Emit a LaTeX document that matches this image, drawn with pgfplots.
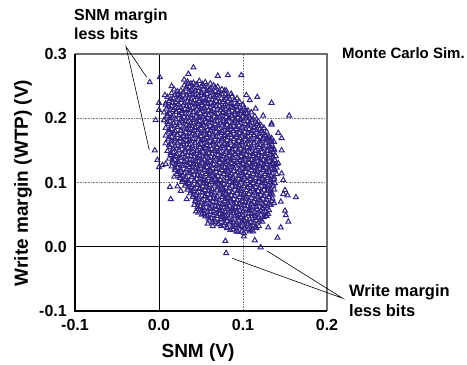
\documentclass[border=0pt]{standalone}
\usepackage{pgfplots}
\pgfplotsset{compat=1.18}
\usepackage{fontspec}
\setmainfont{Liberation Sans}
\definecolor{markc}{RGB}{50,34,132}
\definecolor{framegray}{RGB}{110,110,110}
\begin{document}
\begin{tikzpicture}
\useasboundingbox (-75bp,-54bp) rectangle (392bp,311bp);
\begin{axis}[at={(0,0)}, anchor=south west, scale only axis,
  width=252bp, height=257bp,
  xmin=-0.1, xmax=0.2, ymin=-0.1, ymax=0.3,
  xtick={-0.1,0,0.1,0.2}, ytick={-0.1,0,0.1,0.2,0.3},
  axis line style={draw=none},
  major tick length=0pt,
  clip=false,
  /pgf/number format/.cd, fixed, fixed zerofill, precision=1, assume math mode=true,
  /pgfplots/.cd,
  tick label style={font=\fontsize{16bp}{18bp}\selectfont\bfseries},
  xticklabel style={anchor=north, inner sep=0pt, yshift=-8bp},
  yticklabel style={anchor=east, inner sep=0pt, xshift=-8bp},
  mcs/.style={only marks, mark=triangle, mark size=2.9pt, mark options={draw=markc, line width=1.0bp}},
]
\draw[gray, densely dotted, line width=0.6bp] (axis cs:0.1,-0.1) -- (axis cs:0.1,0.3);
\draw[gray, densely dotted, line width=0.6bp] (axis cs:-0.1,0.1) -- (axis cs:0.2,0.1);
\draw[gray, densely dotted, line width=0.6bp] (axis cs:-0.1,0.2) -- (axis cs:0.2,0.2);
\draw[black, line width=0.9bp] (axis cs:0,-0.1) -- (axis cs:0,0.3);
\draw[black, line width=0.9bp] (axis cs:-0.1,0) -- (axis cs:0.2,0);
\addplot[mcs] coordinates {
(0.034,0.257) (0.041,0.255) (0.048,0.258) (0.055,0.256) (0.061,0.254)
(0.030,0.251) (0.036,0.249) (0.044,0.252) (0.051,0.250) (0.057,0.248) (0.065,0.251) (0.070,0.249)
(0.018,0.245) (0.026,0.243) (0.032,0.246) (0.039,0.244) (0.047,0.242) (0.053,0.245) (0.060,0.244) (0.067,0.242) (0.075,0.245) (0.080,0.243)
(0.015,0.239) (0.023,0.237) (0.029,0.240) (0.037,0.238) (0.043,0.236) (0.051,0.239) (0.057,0.238) (0.065,0.236) (0.071,0.239) (0.079,0.237) (0.086,0.238)
(0.010,0.233) (0.017,0.231) (0.025,0.234) (0.031,0.232) (0.038,0.230) (0.045,0.233) (0.053,0.232) (0.059,0.230) (0.066,0.233) (0.074,0.231) (0.080,0.232) (0.087,0.234) (0.093,0.231)
(0.012,0.227) (0.020,0.225) (0.026,0.228) (0.034,0.226) (0.040,0.224) (0.048,0.227) (0.054,0.226) (0.062,0.224) (0.068,0.227) (0.076,0.225) (0.082,0.226) (0.090,0.228) (0.096,0.225)
(0.008,0.221) (0.015,0.219) (0.023,0.222) (0.029,0.220) (0.036,0.218) (0.043,0.221) (0.051,0.220) (0.057,0.218) (0.064,0.221) (0.072,0.219) (0.078,0.220) (0.085,0.222) (0.092,0.219) (0.100,0.221)
(0.009,0.215) (0.017,0.213) (0.023,0.216) (0.031,0.214) (0.037,0.212) (0.045,0.215) (0.051,0.214) (0.059,0.212) (0.065,0.215) (0.073,0.213) (0.079,0.214) (0.087,0.216) (0.093,0.213) (0.101,0.215) (0.106,0.212)
(0.006,0.209) (0.013,0.207) (0.021,0.210) (0.027,0.208) (0.034,0.206) (0.041,0.209) (0.049,0.208) (0.055,0.206) (0.062,0.209) (0.070,0.207) (0.076,0.208) (0.083,0.210) (0.090,0.207) (0.098,0.209) (0.104,0.207) (0.110,0.209)
(0.010,0.203) (0.016,0.201) (0.024,0.204) (0.030,0.202) (0.038,0.200) (0.044,0.203) (0.052,0.202) (0.058,0.200) (0.066,0.203) (0.072,0.201) (0.080,0.202) (0.086,0.204) (0.094,0.201) (0.100,0.203) (0.108,0.201) (0.114,0.203)
(0.006,0.197) (0.013,0.195) (0.020,0.198) (0.028,0.196) (0.034,0.194) (0.041,0.197) (0.048,0.196) (0.056,0.194) (0.062,0.197) (0.069,0.195) (0.077,0.196) (0.083,0.198) (0.090,0.195) (0.097,0.197) (0.105,0.195) (0.111,0.197) (0.118,0.195)
(0.011,0.191) (0.019,0.189) (0.025,0.192) (0.033,0.190) (0.039,0.188) (0.047,0.191) (0.053,0.190) (0.061,0.188) (0.067,0.191) (0.075,0.189) (0.081,0.190) (0.089,0.192) (0.095,0.189) (0.103,0.191) (0.109,0.189) (0.117,0.191) (0.122,0.188)
(0.008,0.185) (0.015,0.183) (0.022,0.186) (0.030,0.184) (0.036,0.182) (0.043,0.185) (0.050,0.184) (0.058,0.182) (0.064,0.185) (0.071,0.183) (0.079,0.184) (0.085,0.186) (0.092,0.183) (0.099,0.185) (0.107,0.183) (0.113,0.185) (0.120,0.183) (0.125,0.185)
(0.012,0.179) (0.018,0.177) (0.026,0.180) (0.032,0.178) (0.040,0.176) (0.046,0.179) (0.054,0.178) (0.060,0.176) (0.068,0.179) (0.074,0.177) (0.082,0.178) (0.088,0.180) (0.096,0.177) (0.102,0.179) (0.110,0.177) (0.116,0.179) (0.124,0.177) (0.128,0.179)
(0.008,0.173) (0.015,0.171) (0.022,0.174) (0.029,0.172) (0.036,0.170) (0.043,0.173) (0.050,0.172) (0.057,0.170) (0.064,0.173) (0.071,0.171) (0.078,0.172) (0.085,0.174) (0.092,0.171) (0.099,0.173) (0.106,0.171) (0.113,0.173) (0.120,0.171) (0.127,0.173) (0.131,0.171)
(0.011,0.167) (0.019,0.165) (0.025,0.168) (0.033,0.166) (0.039,0.164) (0.047,0.167) (0.053,0.166) (0.061,0.164) (0.067,0.167) (0.075,0.165) (0.081,0.166) (0.089,0.168) (0.095,0.165) (0.103,0.167) (0.109,0.165) (0.117,0.167) (0.123,0.165) (0.131,0.167) (0.134,0.164)
(0.008,0.161) (0.015,0.159) (0.022,0.162) (0.029,0.160) (0.036,0.158) (0.043,0.161) (0.050,0.160) (0.057,0.158) (0.064,0.161) (0.071,0.159) (0.078,0.160) (0.085,0.162) (0.092,0.159) (0.099,0.161) (0.106,0.159) (0.113,0.161) (0.120,0.159) (0.127,0.161) (0.134,0.159)
(0.013,0.155) (0.021,0.153) (0.027,0.156) (0.035,0.154) (0.041,0.152) (0.049,0.155) (0.055,0.154) (0.063,0.152) (0.069,0.155) (0.077,0.153) (0.083,0.154) (0.091,0.156) (0.097,0.153) (0.105,0.155) (0.111,0.153) (0.119,0.155) (0.125,0.153) (0.133,0.155) (0.137,0.152)
(0.010,0.149) (0.017,0.147) (0.024,0.150) (0.031,0.148) (0.038,0.146) (0.045,0.149) (0.052,0.148) (0.059,0.146) (0.066,0.149) (0.073,0.147) (0.080,0.148) (0.087,0.150) (0.094,0.147) (0.101,0.149) (0.108,0.147) (0.115,0.149) (0.122,0.147) (0.129,0.149) (0.136,0.147)
(0.014,0.143) (0.020,0.141) (0.028,0.144) (0.034,0.142) (0.042,0.140) (0.048,0.143) (0.056,0.142) (0.062,0.140) (0.070,0.143) (0.076,0.141) (0.084,0.142) (0.090,0.144) (0.098,0.141) (0.104,0.143) (0.112,0.141) (0.118,0.143) (0.126,0.141) (0.132,0.143) (0.139,0.141)
(0.012,0.137) (0.019,0.135) (0.026,0.138) (0.033,0.136) (0.040,0.134) (0.047,0.137) (0.054,0.136) (0.061,0.134) (0.068,0.137) (0.075,0.135) (0.082,0.136) (0.089,0.138) (0.096,0.135) (0.103,0.137) (0.110,0.135) (0.117,0.137) (0.124,0.135) (0.131,0.137) (0.138,0.135)
(0.016,0.131) (0.023,0.129) (0.030,0.132) (0.037,0.130) (0.044,0.128) (0.051,0.131) (0.058,0.130) (0.065,0.128) (0.072,0.131) (0.079,0.129) (0.086,0.130) (0.093,0.132) (0.100,0.129) (0.107,0.131) (0.114,0.129) (0.121,0.131) (0.128,0.129) (0.135,0.131) (0.140,0.129)
(0.015,0.125) (0.022,0.123) (0.029,0.126) (0.036,0.124) (0.043,0.122) (0.050,0.125) (0.057,0.124) (0.064,0.122) (0.071,0.125) (0.078,0.123) (0.085,0.124) (0.092,0.126) (0.099,0.123) (0.106,0.125) (0.113,0.123) (0.120,0.125) (0.127,0.123) (0.134,0.125) (0.140,0.123)
(0.019,0.119) (0.026,0.117) (0.033,0.120) (0.040,0.118) (0.047,0.116) (0.054,0.119) (0.061,0.118) (0.068,0.116) (0.075,0.119) (0.082,0.117) (0.089,0.118) (0.096,0.120) (0.103,0.117) (0.110,0.119) (0.117,0.117) (0.124,0.119) (0.131,0.117) (0.138,0.119)
(0.021,0.113) (0.028,0.111) (0.035,0.114) (0.042,0.112) (0.049,0.110) (0.056,0.113) (0.063,0.112) (0.070,0.110) (0.077,0.113) (0.084,0.111) (0.091,0.112) (0.098,0.114) (0.105,0.111) (0.112,0.113) (0.119,0.111) (0.126,0.113) (0.133,0.111) (0.140,0.113)
(0.025,0.107) (0.031,0.105) (0.039,0.108) (0.045,0.106) (0.053,0.104) (0.059,0.107) (0.067,0.106) (0.073,0.104) (0.081,0.107) (0.087,0.105) (0.095,0.106) (0.101,0.108) (0.109,0.105) (0.115,0.107) (0.123,0.105) (0.129,0.107) (0.137,0.105)
(0.028,0.101) (0.035,0.099) (0.042,0.102) (0.049,0.100) (0.056,0.098) (0.063,0.101) (0.070,0.100) (0.077,0.098) (0.084,0.101) (0.091,0.099) (0.098,0.100) (0.105,0.102) (0.112,0.099) (0.119,0.101) (0.126,0.099) (0.133,0.101) (0.138,0.099)
(0.031,0.095) (0.038,0.093) (0.045,0.096) (0.052,0.094) (0.059,0.092) (0.066,0.095) (0.073,0.094) (0.080,0.092) (0.087,0.095) (0.094,0.093) (0.101,0.094) (0.108,0.096) (0.115,0.093) (0.122,0.095) (0.129,0.093) (0.136,0.095)
(0.034,0.089) (0.041,0.087) (0.048,0.090) (0.055,0.088) (0.062,0.086) (0.069,0.089) (0.076,0.088) (0.083,0.086) (0.090,0.089) (0.097,0.087) (0.104,0.088) (0.111,0.090) (0.118,0.087) (0.125,0.089) (0.132,0.087) (0.137,0.089)
(0.037,0.083) (0.044,0.081) (0.051,0.084) (0.058,0.082) (0.065,0.080) (0.072,0.083) (0.079,0.082) (0.086,0.080) (0.093,0.083) (0.100,0.081) (0.107,0.082) (0.114,0.084) (0.121,0.081) (0.128,0.083) (0.135,0.081)
(0.040,0.077) (0.047,0.075) (0.054,0.078) (0.061,0.076) (0.068,0.074) (0.075,0.077) (0.082,0.076) (0.089,0.074) (0.096,0.077) (0.103,0.075) (0.110,0.076) (0.117,0.078) (0.124,0.075) (0.131,0.077) (0.135,0.075)
(0.043,0.071) (0.050,0.069) (0.057,0.072) (0.064,0.070) (0.071,0.068) (0.078,0.071) (0.085,0.070) (0.092,0.068) (0.099,0.071) (0.106,0.069) (0.113,0.070) (0.120,0.072) (0.127,0.069) (0.134,0.071)
(0.042,0.065) (0.049,0.063) (0.056,0.066) (0.063,0.064) (0.070,0.062) (0.077,0.065) (0.084,0.064) (0.091,0.062) (0.098,0.065) (0.105,0.063) (0.112,0.064) (0.119,0.066) (0.126,0.063) (0.133,0.065)
(0.047,0.059) (0.054,0.057) (0.061,0.060) (0.068,0.058) (0.075,0.056) (0.082,0.059) (0.089,0.058) (0.096,0.056) (0.103,0.059) (0.110,0.057) (0.117,0.058) (0.124,0.060) (0.131,0.057)
(0.047,0.053) (0.054,0.051) (0.061,0.054) (0.068,0.052) (0.075,0.050) (0.082,0.053) (0.089,0.052) (0.096,0.050) (0.103,0.053) (0.110,0.051) (0.117,0.052) (0.124,0.054) (0.130,0.051)
(0.055,0.047) (0.062,0.045) (0.069,0.048) (0.076,0.046) (0.083,0.044) (0.090,0.047) (0.097,0.046) (0.104,0.044) (0.111,0.047) (0.118,0.045) (0.125,0.046) (0.128,0.048)
(0.060,0.041) (0.067,0.039) (0.074,0.042) (0.081,0.040) (0.088,0.038) (0.095,0.041) (0.102,0.040) (0.109,0.038) (0.116,0.041) (0.123,0.039)
(0.070,0.035) (0.077,0.033) (0.084,0.036) (0.091,0.034) (0.098,0.032) (0.105,0.035) (0.112,0.034) (0.119,0.032)
(0.081,0.029) (0.088,0.027) (0.095,0.030) (0.102,0.028) (0.109,0.026) (0.116,0.029)
(0.094,0.023) (0.101,0.021) (0.108,0.024)
(-0.011,0.256) (0.001,0.264) (0.015,0.250) (0.030,0.260) (0.035,0.269) (0.041,0.279) (0.035,0.254) (0.000,0.224) (0.000,0.213) (0.007,0.236) (0.008,0.223) (-0.004,0.197) (0.006,0.197) (0.022,0.236)
(0.070,0.266) (0.082,0.267) (0.098,0.267) (0.104,0.236) (0.108,0.228) (0.117,0.233) (0.134,0.224) (0.155,0.204) (0.134,0.192) (0.124,0.204) (0.115,0.215)
(0.134,0.190) (0.142,0.177) (0.146,0.169) (0.137,0.163) (0.134,0.169) (0.137,0.150) (0.146,0.150) (0.142,0.130) (0.146,0.114) (0.148,0.104) (0.150,0.088)
(-0.005,0.150) (-0.002,0.135) (0.004,0.127) (0.008,0.129) (0.018,0.109) (0.013,0.093) (0.022,0.094) (0.000,0.124)
(0.014,0.074) (0.033,0.074) (0.026,0.087) (0.044,0.055) (0.058,0.036) (0.064,0.032)
(0.079,0.009) (0.080,-0.010) (0.101,0.016) (0.114,0.010) (0.121,-0.001) (0.141,0.014) (0.154,0.039) (0.145,0.030) (0.130,0.030)
(0.163,0.077) (0.153,0.080) (0.137,0.068) (0.150,0.056) (0.151,0.049) (0.145,0.070) (0.148,0.082)
};
\addplot[mcs] coordinates {
(0.038,0.254) (0.045,0.252) (0.052,0.253)
(0.033,0.248) (0.040,0.246) (0.047,0.247) (0.054,0.249) (0.061,0.246) (0.067,0.248)
(0.022,0.242) (0.029,0.240) (0.036,0.241) (0.043,0.243) (0.050,0.240) (0.057,0.242) (0.064,0.240) (0.071,0.241) (0.078,0.243)
(0.019,0.236) (0.026,0.234) (0.033,0.235) (0.040,0.237) (0.047,0.234) (0.054,0.236) (0.061,0.234) (0.068,0.235) (0.075,0.237) (0.082,0.234)
(0.014,0.230) (0.021,0.228) (0.028,0.229) (0.035,0.231) (0.042,0.228) (0.049,0.230) (0.056,0.228) (0.063,0.229) (0.070,0.231) (0.077,0.228) (0.084,0.230) (0.090,0.228)
(0.016,0.224) (0.023,0.222) (0.030,0.223) (0.037,0.225) (0.044,0.222) (0.051,0.224) (0.058,0.222) (0.065,0.223) (0.072,0.225) (0.079,0.222) (0.086,0.224) (0.093,0.222)
(0.012,0.218) (0.019,0.216) (0.026,0.217) (0.033,0.219) (0.040,0.216) (0.047,0.218) (0.054,0.216) (0.061,0.217) (0.068,0.219) (0.075,0.216) (0.082,0.218) (0.089,0.216) (0.096,0.217)
(0.013,0.212) (0.020,0.210) (0.027,0.211) (0.034,0.213) (0.041,0.210) (0.048,0.212) (0.055,0.210) (0.062,0.211) (0.069,0.213) (0.076,0.210) (0.083,0.212) (0.090,0.210) (0.097,0.211) (0.103,0.213)
(0.010,0.206) (0.017,0.204) (0.024,0.205) (0.031,0.207) (0.038,0.204) (0.045,0.206) (0.052,0.204) (0.059,0.205) (0.066,0.207) (0.073,0.204) (0.080,0.206) (0.087,0.204) (0.094,0.205) (0.101,0.207) (0.107,0.204)
(0.013,0.200) (0.020,0.198) (0.027,0.199) (0.034,0.201) (0.041,0.198) (0.048,0.200) (0.055,0.198) (0.062,0.199) (0.069,0.201) (0.076,0.198) (0.083,0.200) (0.090,0.198) (0.097,0.199) (0.104,0.201) (0.111,0.198)
(0.010,0.194) (0.017,0.192) (0.024,0.193) (0.031,0.195) (0.038,0.192) (0.045,0.194) (0.052,0.192) (0.059,0.193) (0.066,0.195) (0.073,0.192) (0.080,0.194) (0.087,0.192) (0.094,0.193) (0.101,0.195) (0.108,0.192) (0.115,0.194)
(0.015,0.188) (0.022,0.186) (0.029,0.187) (0.036,0.189) (0.043,0.186) (0.050,0.188) (0.057,0.186) (0.064,0.187) (0.071,0.189) (0.078,0.186) (0.085,0.188) (0.092,0.186) (0.099,0.187) (0.106,0.189) (0.113,0.186) (0.119,0.188)
(0.012,0.182) (0.019,0.180) (0.026,0.181) (0.033,0.183) (0.040,0.180) (0.047,0.182) (0.054,0.180) (0.061,0.181) (0.068,0.183) (0.075,0.180) (0.082,0.182) (0.089,0.180) (0.096,0.181) (0.103,0.183) (0.110,0.180) (0.117,0.182) (0.122,0.180)
(0.015,0.176) (0.022,0.174) (0.029,0.175) (0.036,0.177) (0.043,0.174) (0.050,0.176) (0.057,0.174) (0.064,0.175) (0.071,0.177) (0.078,0.174) (0.085,0.176) (0.092,0.174) (0.099,0.175) (0.106,0.177) (0.113,0.174) (0.120,0.176) (0.126,0.174)
(0.012,0.170) (0.019,0.168) (0.026,0.169) (0.033,0.171) (0.040,0.168) (0.047,0.170) (0.054,0.168) (0.061,0.169) (0.068,0.171) (0.075,0.168) (0.082,0.170) (0.089,0.168) (0.096,0.169) (0.103,0.171) (0.110,0.168) (0.117,0.170) (0.124,0.168) (0.129,0.169)
(0.015,0.164) (0.022,0.162) (0.029,0.163) (0.036,0.165) (0.043,0.162) (0.050,0.164) (0.057,0.162) (0.064,0.163) (0.071,0.165) (0.078,0.162) (0.085,0.164) (0.092,0.162) (0.099,0.163) (0.106,0.165) (0.113,0.162) (0.120,0.164) (0.127,0.162) (0.132,0.163)
(0.012,0.158) (0.019,0.156) (0.026,0.157) (0.033,0.159) (0.040,0.156) (0.047,0.158) (0.054,0.156) (0.061,0.157) (0.068,0.159) (0.075,0.156) (0.082,0.158) (0.089,0.156) (0.096,0.157) (0.103,0.159) (0.110,0.156) (0.117,0.158) (0.124,0.156) (0.131,0.157)
(0.017,0.152) (0.024,0.150) (0.031,0.151) (0.038,0.153) (0.045,0.150) (0.052,0.152) (0.059,0.150) (0.066,0.151) (0.073,0.153) (0.080,0.150) (0.087,0.152) (0.094,0.150) (0.101,0.151) (0.108,0.153) (0.115,0.150) (0.122,0.152) (0.129,0.150) (0.134,0.151)
(0.014,0.146) (0.021,0.144) (0.028,0.145) (0.035,0.147) (0.042,0.144) (0.049,0.146) (0.056,0.144) (0.063,0.145) (0.070,0.147) (0.077,0.144) (0.084,0.146) (0.091,0.144) (0.098,0.145) (0.105,0.147) (0.112,0.144) (0.119,0.146) (0.126,0.144) (0.133,0.145)
(0.017,0.140) (0.024,0.138) (0.031,0.139) (0.038,0.141) (0.045,0.138) (0.052,0.140) (0.059,0.138) (0.066,0.139) (0.073,0.141) (0.080,0.138) (0.087,0.140) (0.094,0.138) (0.101,0.139) (0.108,0.141) (0.115,0.138) (0.122,0.140) (0.129,0.138) (0.136,0.139)
(0.016,0.134) (0.023,0.132) (0.030,0.133) (0.037,0.135) (0.044,0.132) (0.051,0.134) (0.058,0.132) (0.065,0.133) (0.072,0.135) (0.079,0.132) (0.086,0.134) (0.093,0.132) (0.100,0.133) (0.107,0.135) (0.114,0.132) (0.121,0.134) (0.128,0.132) (0.135,0.133)
(0.020,0.128) (0.027,0.126) (0.034,0.127) (0.041,0.129) (0.048,0.126) (0.055,0.128) (0.062,0.126) (0.069,0.127) (0.076,0.129) (0.083,0.126) (0.090,0.128) (0.097,0.126) (0.104,0.127) (0.111,0.129) (0.118,0.126) (0.125,0.128) (0.132,0.126) (0.138,0.127)
(0.019,0.122) (0.026,0.120) (0.033,0.121) (0.040,0.123) (0.047,0.120) (0.054,0.122) (0.061,0.120) (0.068,0.121) (0.075,0.123) (0.082,0.120) (0.089,0.122) (0.096,0.120) (0.103,0.121) (0.110,0.123) (0.117,0.120) (0.124,0.122) (0.131,0.120) (0.137,0.121)
(0.023,0.116) (0.030,0.114) (0.037,0.115) (0.044,0.117) (0.051,0.114) (0.058,0.116) (0.065,0.114) (0.072,0.115) (0.079,0.117) (0.086,0.114) (0.093,0.116) (0.100,0.114) (0.107,0.115) (0.114,0.117) (0.121,0.114) (0.128,0.116) (0.135,0.114)
(0.025,0.110) (0.032,0.108) (0.039,0.109) (0.046,0.111) (0.053,0.108) (0.060,0.110) (0.067,0.108) (0.074,0.109) (0.081,0.111) (0.088,0.108) (0.095,0.110) (0.102,0.108) (0.109,0.109) (0.116,0.111) (0.123,0.108) (0.130,0.110) (0.137,0.108)
(0.028,0.104) (0.035,0.102) (0.042,0.103) (0.049,0.105) (0.056,0.102) (0.063,0.104) (0.070,0.102) (0.077,0.103) (0.084,0.105) (0.091,0.102) (0.098,0.104) (0.105,0.102) (0.112,0.103) (0.119,0.105) (0.126,0.102) (0.133,0.104)
(0.032,0.098) (0.039,0.096) (0.046,0.097) (0.053,0.099) (0.060,0.096) (0.067,0.098) (0.074,0.096) (0.081,0.097) (0.088,0.099) (0.095,0.096) (0.102,0.098) (0.109,0.096) (0.116,0.097) (0.123,0.099) (0.130,0.096) (0.135,0.098)
(0.035,0.092) (0.042,0.090) (0.049,0.091) (0.056,0.093) (0.063,0.090) (0.070,0.092) (0.077,0.090) (0.084,0.091) (0.091,0.093) (0.098,0.090) (0.105,0.092) (0.112,0.090) (0.119,0.091) (0.126,0.093) (0.133,0.090)
(0.038,0.086) (0.045,0.084) (0.052,0.085) (0.059,0.087) (0.066,0.084) (0.073,0.086) (0.080,0.084) (0.087,0.085) (0.094,0.087) (0.101,0.084) (0.108,0.086) (0.115,0.084) (0.122,0.085) (0.129,0.087) (0.134,0.084)
(0.041,0.080) (0.048,0.078) (0.055,0.079) (0.062,0.081) (0.069,0.078) (0.076,0.080) (0.083,0.078) (0.090,0.079) (0.097,0.081) (0.104,0.078) (0.111,0.080) (0.118,0.078) (0.125,0.079) (0.132,0.081)
(0.044,0.074) (0.051,0.072) (0.058,0.073) (0.065,0.075) (0.072,0.072) (0.079,0.074) (0.086,0.072) (0.093,0.073) (0.100,0.075) (0.107,0.072) (0.114,0.074) (0.121,0.072) (0.128,0.073)
(0.047,0.068) (0.054,0.066) (0.061,0.067) (0.068,0.069) (0.075,0.066) (0.082,0.068) (0.089,0.066) (0.096,0.067) (0.103,0.069) (0.110,0.066) (0.117,0.068) (0.124,0.066) (0.131,0.067)
(0.046,0.062) (0.053,0.060) (0.060,0.061) (0.067,0.063) (0.074,0.060) (0.081,0.062) (0.088,0.060) (0.095,0.061) (0.102,0.063) (0.109,0.060) (0.116,0.062) (0.123,0.060) (0.129,0.061)
(0.051,0.056) (0.058,0.054) (0.065,0.055) (0.072,0.057) (0.079,0.054) (0.086,0.056) (0.093,0.054) (0.100,0.055) (0.107,0.057) (0.114,0.054) (0.121,0.056) (0.127,0.054)
(0.051,0.050) (0.058,0.048) (0.065,0.049) (0.072,0.051) (0.079,0.048) (0.086,0.050) (0.093,0.048) (0.100,0.049) (0.107,0.051) (0.114,0.048) (0.121,0.050) (0.127,0.048)
(0.059,0.044) (0.066,0.042) (0.073,0.043) (0.080,0.045) (0.087,0.042) (0.094,0.044) (0.101,0.042) (0.108,0.043) (0.115,0.045) (0.121,0.042)
(0.064,0.038) (0.071,0.036) (0.078,0.037) (0.085,0.039) (0.092,0.036) (0.099,0.038) (0.106,0.036) (0.113,0.037) (0.119,0.039)
(0.074,0.032) (0.081,0.030) (0.088,0.031) (0.095,0.033) (0.102,0.030) (0.109,0.032) (0.115,0.030)
(0.085,0.026) (0.092,0.024) (0.099,0.025) (0.106,0.027) (0.112,0.024)
};
\draw[framegray, line width=1.3bp] (axis cs:-0.1,0.3) -- (axis cs:0.2,0.3) -- (axis cs:0.2,-0.1);
\draw[black, line width=1.3bp] (axis cs:-0.1,0.3) -- (axis cs:-0.1,-0.1) -- (axis cs:0.2,-0.1);
\end{axis}
% axis labels
\node[font=\fontsize{19bp}{21bp}\selectfont\bfseries] at (123bp,-42bp) {SNM (V)};
\node[font=\fontsize{19bp}{21bp}\selectfont\bfseries, rotate=90] at (-52bp,128bp) {Write margin (WTP) (V)};
% annotations
\node[font=\fontsize{16bp}{18bp}\selectfont\bfseries, anchor=base west, inner sep=0pt] at (-1bp,290bp) {SNM margin};
\node[font=\fontsize{16bp}{18bp}\selectfont\bfseries, anchor=base west, inner sep=0pt] at (-1bp,271bp) {less bits};
\node[font=\fontsize{15bp}{17bp}\selectfont\bfseries, anchor=base west, inner sep=0pt] at (267bp,252.7bp) {Monte Carlo Sim.};
\node[font=\fontsize{16.5bp}{18bp}\selectfont\bfseries, anchor=base west, inner sep=0pt] at (274bp,14.3bp) {Write margin};
\node[font=\fontsize{16.5bp}{18bp}\selectfont\bfseries, anchor=base west, inner sep=0pt] at (274bp,-5.7bp) {less bits};
\draw[black, line width=0.6bp] (71.7bp,233.7bp) -- (51bp,264.3bp) -- (74.3bp,161bp);
\draw[black, line width=0.6bp] (191.7bp,60.3bp) -- (267.7bp,12.7bp) -- (157.3bp,52.7bp);
\end{tikzpicture}
\end{document}
